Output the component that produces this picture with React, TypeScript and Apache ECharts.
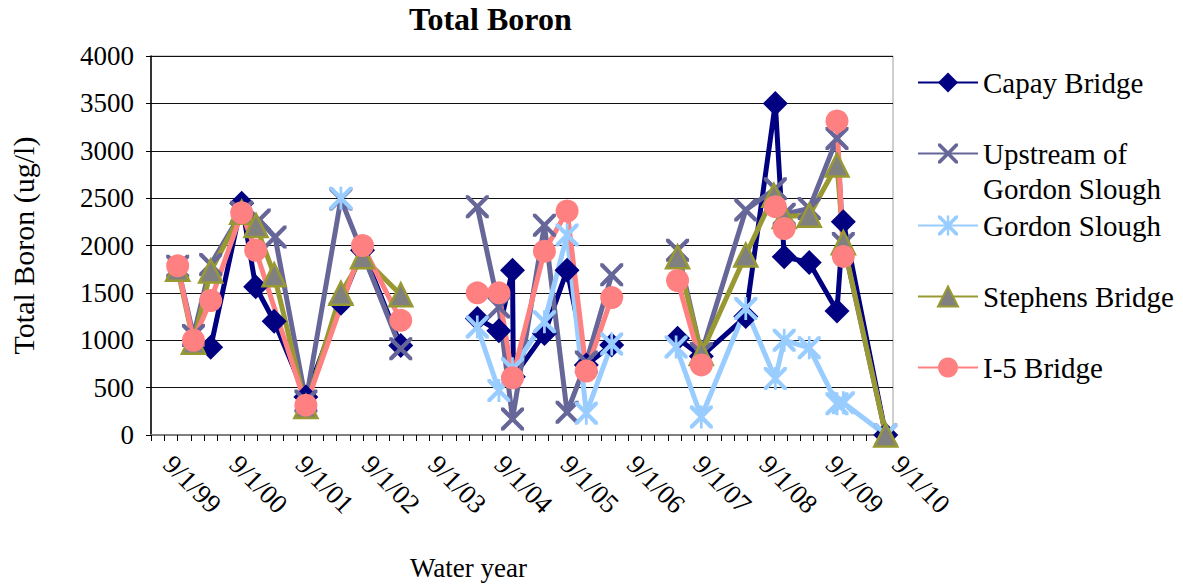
import React, { useEffect, useRef } from 'react';
import * as echarts from 'echarts';

type Pt = [string, number | null];

const seriesNames = ['Capay Bridge', 'Upstream of Gordon Slough', 'Gordon Slough', 'Stephens Bridge', 'I-5 Bridge'];
const yearLabels = ['9/1/99', '9/1/00', '9/1/01', '9/1/02', '9/1/03', '9/1/04', '9/1/05', '9/1/06', '9/1/07', '9/1/08', '9/1/09', '9/1/10'];

const capay: Pt[] = [
  ['2000-07-26', 925], ['2001-01-13', 2445], ['2001-03-31', 1565], ['2001-07-11', 1200], ['2002-01-02', 400],
  ['2002-07-14', 1390], ['2002-11-10', 1950], ['2003-06-09', 945], ['2003-12-01', null],
  ['2004-08-04', 1230], ['2004-12-01', 1100], ['2005-02-14', 1740], ['2005-02-19', 615], ['2005-08-09', 1070],
  ['2005-12-12', 1740], ['2006-03-28', 740], ['2006-08-15', 950], ['2007-01-01', null],
  ['2007-08-13', 1020], ['2007-12-22', 830], ['2008-08-23', 1250], ['2009-02-02', 3500], ['2009-03-23', 1880],
  ['2009-08-08', 1820], ['2010-01-08', 1310], ['2010-02-12', 2250], ['2010-10-04', 0],
];

const upstream: Pt[] = [
  ['2000-01-26', 1780], ['2000-04-22', 1050], ['2000-07-26', 1800], ['2001-01-13', 2350], ['2001-04-20', 2270],
  ['2001-07-16', 2090], ['2002-01-02', 360], ['2002-07-14', 2490], ['2003-06-09', 910], ['2003-12-01', null],
  ['2004-08-04', 2410], ['2004-12-01', 1350], ['2005-02-14', 170], ['2005-08-09', 2215], ['2005-12-12', 240],
  ['2006-03-28', 770], ['2006-08-15', 1690], ['2007-01-01', null],
  ['2007-08-13', 1950], ['2007-12-22', 860], ['2008-08-23', 2375], ['2009-02-02', 2600], ['2009-03-23', 2330],
  ['2009-08-08', 2390], ['2010-01-08', 3130], ['2010-02-12', 2020], ['2010-10-04', 0],
];

const gordon: Pt[] = [
  ['2002-07-14', 2500], ['2003-12-01', null],
  ['2004-08-04', 1140], ['2004-12-01', 470], ['2005-02-14', 700], ['2005-08-09', 1195], ['2005-12-12', 2110],
  ['2006-03-28', 230], ['2006-08-15', 960], ['2007-01-01', null],
  ['2007-08-05', 930], ['2007-12-22', 190], ['2008-08-23', 1335], ['2009-02-02', 595], ['2009-03-23', 1000],
  ['2009-08-08', 920], ['2010-01-08', 330], ['2010-02-12', 340], ['2010-10-04', 0],
];

const stephens: Pt[] = [
  ['2000-01-26', 1750], ['2000-04-22', 980], ['2000-07-26', 1730], ['2001-01-13', 2350], ['2001-04-02', 2210],
  ['2001-07-11', 1690], ['2002-01-02', 300], ['2002-07-14', 1495], ['2002-11-10', 1880], ['2003-06-09', 1480],
  ['2005-01-01', null],
  ['2007-08-13', 1880], ['2007-12-22', 860], ['2008-08-23', 1900], ['2009-01-25', 2530], ['2009-03-23', 2305],
  ['2009-08-08', 2320], ['2010-01-08', 2850], ['2010-02-12', 2030], ['2010-10-04', 0],
];

const i5: Pt[] = [
  ['2000-01-26', 1785], ['2000-04-22', 1000], ['2000-07-26', 1420], ['2001-01-13', 2345], ['2001-03-31', 1950],
  ['2002-01-02', 315], ['2002-11-10', 2000], ['2003-06-09', 1210], ['2003-12-01', null],
  ['2004-08-04', 1500], ['2004-12-01', 1500], ['2005-02-14', 605], ['2005-08-09', 1940], ['2005-12-12', 2365],
  ['2006-03-28', 675], ['2006-08-15', 1450], ['2007-01-01', null],
  ['2007-08-13', 1630], ['2007-12-22', 740], ['2008-06-01', null], ['2009-02-02', 2410], ['2009-03-23', 2180],
  ['2009-06-01', null], ['2010-01-08', 3315], ['2010-02-12', 1885],
];

const FONT = '"Liberation Serif", "Times New Roman", serif';
const T0 = Date.UTC(1999, 8, 1);
const YEAR = 365.25 * 86400000;
const toX = (d: string) => (Date.parse(d + 'T00:00:00Z') - T0) / YEAR;
const toData = (pts: Pt[]) => pts.map(([d, v]) => [toX(d), v === null ? '-' : v]);

const X_D = 'M0,0L2.6,0L10,7.4L17.4,0L20,0L20,2.6L12.6,10L20,17.4L20,20L17.4,20L10,12.6L2.6,20L0,20L0,17.4L7.4,10L0,2.6Z';
const X_SYM = 'path://' + X_D;
const STAR_SYM = 'path://' + X_D + 'M8.8,0L11.2,0L11.2,20L8.8,20Z';

export default function App() {
  const ref = useRef<HTMLDivElement>(null);
  useEffect(() => {
    document.body.style.margin = '0';
    const chart = echarts.init(ref.current!, undefined, { renderer: 'svg' });
    const mk = (name: string, pts: Pt[], color: string, symbol: string, size: number | number[], itemStyle?: any) => ({
      name,
      type: 'line',
      data: toData(pts),
      color,
      symbol,
      symbolSize: size,
      showAllSymbol: true,
      connectNulls: false,
      silent: true,
      emphasis: { disabled: true },
      lineStyle: { color, width: 5 },
      itemStyle: itemStyle || { color, borderWidth: 0 },
    });
    const legendTops = [65, 101, 208, 279, 350];
    const legends = seriesNames.map((n, i) => ({
      data: [n],
      orient: 'vertical',
      left: 917,
      top: legendTops[i],
      padding: 0,
      itemWidth: 60,
      itemHeight: 25,
      selectedMode: false,
      formatter: (s: string) => (s === 'Upstream of Gordon Slough' ? ' \nUpstream of\nGordon Slough' : s),
      textStyle: {
        fontFamily: FONT,
        fontSize: 29,
        color: '#000',
        lineHeight: 35,
      },
    }));
    chart.setOption({
      animation: false,
      backgroundColor: '#fff',
      title: {
        text: 'Total Boron',
        left: 409,
        top: 3,
        padding: 0,
        textStyle: { fontFamily: FONT, fontSize: 32, fontWeight: 'bold', color: '#000' },
      },
      legend: legends,
      graphic: [
        {
          type: 'text',
          left: 410,
          top: 554,
          style: { text: 'Water year', fontFamily: FONT, fontSize: 27, fill: '#000' },
        },
      ],
      grid: { left: 149, right: 290, top: 56, bottom: 151, show: true, borderColor: '#a0a0a0', borderWidth: 1 },
      xAxis: {
        type: 'value',
        min: 0,
        max: 11.2,
        interval: 0.2,
        splitLine: { show: false },
        axisLine: { show: true, onZero: false, lineStyle: { color: '#808080', width: 2 } },
        axisTick: { show: true, length: 6, lineStyle: { color: '#000', width: 1 } },
        axisLabel: {
          rotate: -45,
          margin: 8,
          fontFamily: FONT,
          fontSize: 27,
          color: '#000',
          padding: [0, 0, 0, 24],
          showMaxLabel: false,
          formatter: (v: number) => {
            const r = Math.round(v);
            return Math.abs(v - r) < 1e-6 && r >= 0 && r < yearLabels.length ? yearLabels[r] : '';
          },
        },
      },
      yAxis: {
        type: 'value',
        min: 0,
        max: 4000,
        interval: 500,
        name: 'Total Boron (ug/l)',
        nameLocation: 'middle',
        nameRotate: 90,
        nameGap: 113,
        nameTextStyle: { fontFamily: FONT, fontSize: 30, color: '#000' },
        axisLine: { show: true, lineStyle: { color: '#000', width: 1.5 } },
        axisTick: { show: true, length: 5, lineStyle: { color: '#000' } },
        splitLine: { show: true, lineStyle: { color: '#111', width: 1 } },
        axisLabel: { fontFamily: FONT, fontSize: 27, color: '#000', margin: 17, formatter: (v: number) => String(v) },
      },
      series: [
        mk(seriesNames[0], capay, '#000080', 'diamond', 25),
        mk(seriesNames[1], upstream, '#666699', X_SYM, 23),
        mk(seriesNames[2], gordon, '#99CCFF', STAR_SYM, 23),
        mk(seriesNames[3], stephens, '#999933', 'triangle', 23, { color: '#808080', borderColor: '#999933', borderWidth: 2.5 }),
        mk(seriesNames[4], i5, '#FF8080', 'circle', 23),
      ],
    });
    return () => chart.dispose();
  }, []);
  return <div ref={ref} style={{ width: 1183, height: 586 }} />;
}
